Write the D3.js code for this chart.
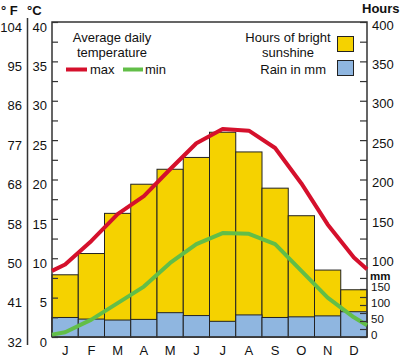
<!DOCTYPE html>
<html>
<head>
<meta charset="utf-8">
<script src="https://cdn.jsdelivr.net/npm/d3@7"></script>
<style>
  body { margin: 0; background: #fff; }
  svg { display: block; font-family: "Liberation Sans", Arial, sans-serif; }
</style>
</head>
<body>
<div id="chart"></div>
<script>
// Data
const months = ["J", "F", "M", "A", "M ", "J ", "J  ", "A ", "S", "O", "N", "D"];
const monthLabels = ["J", "F", "M", "A", "M", "J", "J", "A", "S", "O", "N", "D"];
const sunshineHours = [79, 106, 157, 194, 213, 228, 260, 235, 189, 154, 85, 60];
const rainMm = [61, 56, 53, 55, 76, 67, 49, 69, 61, 63, 66, 79];
const maxTemp = [9.2, 12.2, 15.6, 17.9, 21.3, 24.6, 26.4, 26.2, 24.0, 19.5, 14.3, 10.1];
const minTemp = [0.6, 2.2, 4.3, 6.4, 9.4, 11.8, 13.2, 13.1, 11.8, 8.4, 5.0, 2.5];
// line values where the curves meet the left / right frame
const maxEdge = [8.4, 8.6];
const minEdge = [0.3, 1.5];

const celsiusTicks = [0, 5, 10, 15, 20, 25, 30, 35, 40];
const fahrenheitLabels = ["32", "41", "50", "58", "68", "77", "86", "95", "104"];
const hourLabelTicks = [100, 150, 200, 250, 300, 350, 400];
const mmLabelTicks = [0, 50, 100, 150];

const W = 400, H = 359;
const M = { top: 22, right: 33, bottom: 22, left: 52 };
const x0 = M.left, x1 = W - M.right, y0 = H - M.bottom, y1 = M.top;

const svg = d3.select("#chart").append("svg")
  .attr("width", W).attr("height", H);

const x = d3.scaleBand().domain(months).range([x0, x1]).padding(0);
const yT = d3.scaleLinear().domain([0, 40]).range([y0, y1]);
const yH = d3.scaleLinear().domain([0, 400]).range([y0, y1]);
const yR = d3.scaleLinear().domain([0, 150]).range([y0, y0 - 48]);

const ink = "#222";
const yellow = "#f5d200";
const blue = "#8fb6e0";
const red = "#d5102c";
const green = "#62be48";

// Sunshine bars
svg.append("g").selectAll("rect")
  .data(months)
  .join("rect")
  .attr("x", d => x(d))
  .attr("width", x.bandwidth())
  .attr("y", (d, i) => yH(sunshineHours[i]))
  .attr("height", (d, i) => y0 - yH(sunshineHours[i]))
  .attr("fill", yellow)
  .attr("stroke", ink)
  .attr("stroke-width", 1);

// Rain bars
svg.append("g").selectAll("rect")
  .data(months)
  .join("rect")
  .attr("x", d => x(d))
  .attr("width", x.bandwidth())
  .attr("y", (d, i) => yR(rainMm[i]))
  .attr("height", (d, i) => y0 - yR(rainMm[i]))
  .attr("fill", blue)
  .attr("stroke", ink)
  .attr("stroke-width", 1);

// Frame
svg.append("path")
  .attr("d", `M${x0},${y0}V${y1}H${x1}V${y0}H${x0}`)
  .attr("fill", "none")
  .attr("stroke", "#333")
  .attr("stroke-width", 1.5);

// Temperature lines
const linePoints = (vals, edge) => [
  [x0, edge[0]],
  ...vals.map((v, i) => [x(months[i]) + x.bandwidth() / 2, v]),
  [x1, edge[1]]
];
const line = d3.line().x(d => d[0]).y(d => yT(d[1]));

svg.append("path")
  .attr("d", line(linePoints(minTemp, minEdge)))
  .attr("fill", "none").attr("stroke", green)
  .attr("stroke-width", 4).attr("stroke-linejoin", "round");

svg.append("path")
  .attr("d", line(linePoints(maxTemp, maxEdge)))
  .attr("fill", "none").attr("stroke", red)
  .attr("stroke-width", 4).attr("stroke-linejoin", "round");

// Left inner ticks
svg.append("g")
  .attr("transform", `translate(${x0},0)`)
  .call(d3.axisRight(yT).tickValues(d3.range(0, 40.1, 2.5)).tickSize(6).tickFormat(""))
  .call(g => g.select(".domain").remove())
  .selectAll("line").attr("stroke", "#333").attr("stroke-width", 1.2);

// Celsius labels
svg.append("g")
  .attr("transform", `translate(47,5)`)
  .call(d3.axisLeft(yT).tickValues(celsiusTicks).tickSize(0).tickPadding(0))
  .call(g => g.select(".domain").remove())
  .selectAll("text").attr("font-size", 13).attr("fill", "#111")
  .attr("font-family", "Liberation Sans, Arial, sans-serif");

// Fahrenheit labels
svg.append("g")
  .attr("transform", `translate(22,5)`)
  .call(d3.axisLeft(yT).tickValues(celsiusTicks).tickSize(0).tickPadding(0)
    .tickFormat((d, i) => fahrenheitLabels[i]))
  .call(g => g.select(".domain").remove())
  .selectAll("text").attr("font-size", 13).attr("fill", "#111")
  .attr("font-family", "Liberation Sans, Arial, sans-serif");

// F / C divider
svg.append("line")
  .attr("x1", 27.5).attr("x2", 27.5).attr("y1", 18).attr("y2", 345)
  .attr("stroke", "#333").attr("stroke-width", 1.5);

svg.append("text").attr("x", 1).attr("y", 15)
  .attr("font-size", 13).attr("font-weight", "bold").attr("fill", "#111")
  .text("° F");
svg.append("text").attr("x", 27).attr("y", 15)
  .attr("font-size", 13).attr("font-weight", "bold").attr("fill", "#111")
  .text("°C");

// Right inner ticks: hours
svg.append("g")
  .attr("transform", `translate(${x1},0)`)
  .call(d3.axisLeft(yH).tickValues(d3.range(75, 400.1, 25)).tickSize(7).tickFormat(""))
  .call(g => g.select(".domain").remove())
  .selectAll("line").attr("stroke", "#333").attr("stroke-width", 1.2);

// Right inner ticks: mm
svg.append("g")
  .attr("transform", `translate(${x1},0)`)
  .call(d3.axisLeft(yR).tickValues(d3.range(0, 150.1, 25)).tickSize(7).tickFormat(""))
  .call(g => g.select(".domain").remove())
  .selectAll("line").attr("stroke", "#333").attr("stroke-width", 1.2);

// Hours labels
svg.append("g")
  .attr("transform", `translate(${x1},3)`)
  .call(d3.axisRight(yH).tickValues(hourLabelTicks).tickSize(0).tickPadding(5))
  .call(g => g.select(".domain").remove())
  .selectAll("text").attr("font-size", 13).attr("fill", "#111")
  .attr("font-family", "Liberation Sans, Arial, sans-serif");

// mm labels
svg.append("g")
  .attr("transform", `translate(${x1},-2)`)
  .call(d3.axisRight(yR).tickValues(mmLabelTicks).tickSize(0).tickPadding(4))
  .call(g => g.select(".domain").remove())
  .selectAll("text").attr("font-size", 11.5).attr("fill", "#111")
  .attr("font-family", "Liberation Sans, Arial, sans-serif");

svg.append("text").attr("x", 370).attr("y", 280)
  .attr("font-size", 11.5).attr("font-weight", "bold").attr("fill", "#111")
  .text("mm");
svg.append("text").attr("x", 362).attr("y", 13)
  .attr("font-size", 13).attr("font-weight", "bold").attr("fill", "#111")
  .text("Hours");

// Month labels
svg.append("g")
  .attr("transform", `translate(0,${y0})`)
  .call(d3.axisBottom(x).tickSize(0).tickPadding(9).tickFormat((d, i) => monthLabels[i]))
  .call(g => g.select(".domain").remove())
  .selectAll("text").attr("font-size", 13).attr("fill", "#111")
  .attr("font-family", "Liberation Sans, Arial, sans-serif");

// Legend: temperature
const leg = svg.append("g").attr("font-size", 13).attr("fill", "#111");
leg.append("text").attr("x", 112).attr("y", 42).attr("text-anchor", "middle").text("Average daily");
leg.append("text").attr("x", 112).attr("y", 56.5).attr("text-anchor", "middle").text("temperature");
leg.append("line").attr("x1", 66).attr("x2", 87).attr("y1", 69.5).attr("y2", 69.5)
  .attr("stroke", red).attr("stroke-width", 4);
leg.append("text").attr("x", 90).attr("y", 74).text("max");
leg.append("line").attr("x1", 123).attr("x2", 143).attr("y1", 69.5).attr("y2", 69.5)
  .attr("stroke", green).attr("stroke-width", 4);
leg.append("text").attr("x", 145).attr("y", 74).text("min");

// Legend: sunshine / rain
leg.append("text").attr("x", 288).attr("y", 42).attr("text-anchor", "middle").text("Hours of bright");
leg.append("text").attr("x", 288).attr("y", 56.5).attr("text-anchor", "middle").text("sunshine");
leg.append("text").attr("x", 326).attr("y", 74).attr("text-anchor", "end").text("Rain in mm");
leg.append("rect").attr("x", 337.5).attr("y", 36.5).attr("width", 16).attr("height", 15)
  .attr("fill", yellow).attr("stroke", ink).attr("stroke-width", 1);
leg.append("rect").attr("x", 337.5).attr("y", 60.5).attr("width", 16).attr("height", 15)
  .attr("fill", blue).attr("stroke", ink).attr("stroke-width", 1);
</script>
</body>
</html>
